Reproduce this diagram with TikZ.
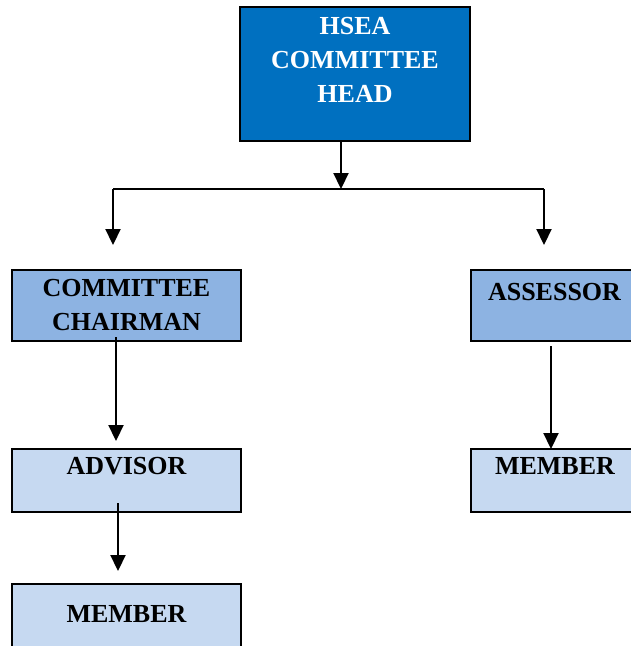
\documentclass[tikz,border=0pt]{standalone}
\usepackage{fontspec}
\setmainfont{Liberation Serif}
\usetikzlibrary{arrows.meta}
\definecolor{headblue}{HTML}{0070C0}
\definecolor{midblue}{HTML}{8DB3E2}
\definecolor{lightblue}{HTML}{C6D9F1}
\begin{document}
\begin{tikzpicture}[x=1pt,y=-1pt,
  box/.style={draw=black, line width=2.2pt, inner sep=0pt, outer sep=0pt},
  txt/.style={font=\fontsize{26}{34}\selectfont\bfseries, align=center, inner sep=0pt},
  conn/.style={line width=2.2pt, draw=black},
  arr/.style={conn, -{Triangle[width=15pt,length=16pt]}}]
\useasboundingbox (0,0) rectangle (631,646);
% boxes
\node[box, fill=headblue, minimum width=230pt, minimum height=134pt] (head) at (355,74) {};
\node[box, fill=midblue, minimum width=229pt, minimum height=71pt] (chair) at (126.5,305.5) {};
\node[box, fill=midblue, minimum width=167pt, minimum height=71pt] (assess) at (554.5,305.5) {};
\node[box, fill=lightblue, minimum width=229pt, minimum height=63pt] (advisor) at (126.5,480.5) {};
\node[box, fill=lightblue, minimum width=167pt, minimum height=63pt] (memr) at (554.5,480.5) {};
\node[box, fill=lightblue, minimum width=229pt, minimum height=70pt] (meml) at (126.5,619) {};
% texts
\node[txt, text=white] (headt) at (355,60) {HSEA\\COMMITTEE\\HEAD};
\node[txt] (chairt) at (126.5,305) {COMMITTEE\\CHAIRMAN};
\node[txt] (assesst) at (554.5,292) {ASSESSOR};
\node[txt] (advisort) at (126.5,466) {ADVISOR};
\node[txt] (memrt) at (555,466) {MEMBER};
\node[txt] (memlt) at (126.5,614) {MEMBER};
% connector points
\coordinate (j) at (341,189);
\coordinate (jl) at (113,189);
\coordinate (jr) at (544,189);
\coordinate (tl) at (113,245);
\coordinate (tr) at (544,245);
\coordinate (c1) at (116,337);
\coordinate (c2) at (116,441);
\coordinate (a1) at (118,503);
\coordinate (a2) at (118,571);
\coordinate (s1) at (551,346);
% connectors
\draw[arr] (head.south -| j) -- (j);
\draw[conn] (jl) -- (jr);
\draw[arr] (jl) -- (tl);
\draw[arr] (jr) -- (tr);
\draw[arr] (c1) -- (c2);
\draw[arr] (a1) -- (a2);
\draw[arr] (s1) -- (memr.north -| s1);
\end{tikzpicture}
\end{document}
